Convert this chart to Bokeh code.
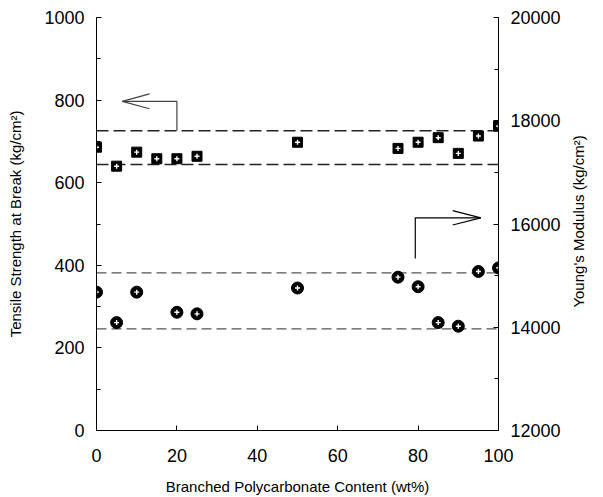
import math
from bokeh.plotting import figure
from bokeh.layouts import row
from bokeh.models import Range1d, LinearAxis, FixedTicker
from bokeh.core.properties import value
from bokeh.embed import file_html
from bokeh.resources import INLINE

# data
content = [0, 5, 10, 15, 20, 25, 50, 75, 80, 85, 90, 95, 100]
tensile = [686, 640, 674, 658, 658, 664, 698, 683, 698, 709, 671, 713, 737]
modulus_x = [0, 5, 10, 20, 25, 50, 75, 80, 85, 90, 95, 100]
modulus = [14680, 14090, 14680, 14290, 14260, 14760, 14970, 14785, 14090, 14020, 15080, 15150]
tensile_bounds = [726, 644]
modulus_bounds = [15055, 13970]
x_ticks = [0, 20, 40, 60, 80, 100]
left_ticks = [0, 200, 400, 600, 800, 1000]
right_ticks = [12000, 14000, 16000, 18000, 20000]
right_title_text = ["Young's Modulus (kg/cm²)"]
# annotation arrows
left_arrow_x = [20, 20, 6.4]
left_arrow_y = [726, 797, 797]
left_head_x = [13.2, 6.4, 13.2]
left_head_y = [815, 797, 779]
right_arrow_x = [79.3, 79.3, 95.6]
right_arrow_y = [15330, 16120, 16120]
right_head_x = [88.6, 95.6, 88.6]
right_head_y = [16260, 16120, 15980]

FONT = "Liberation Sans"

p = figure(output_backend="svg", toolbar_location=None,
           frame_width=402, frame_height=413,
           min_border_left=96, min_border_right=68, min_border_top=17, min_border_bottom=64,
           x_range=Range1d(0, 100), y_range=Range1d(0, 1000))
p.extra_y_ranges = {"mod": Range1d(12000, 20000)}
p.outline_line_color = None
p.grid.visible = False
p.background_fill_color = "white"
p.border_fill_color = "white"

def style(ax, minor=True):
    ax.axis_line_color = "black"
    ax.axis_line_width = 1
    ax.major_tick_in = 5
    ax.major_tick_out = 0
    ax.major_tick_line_color = "black"
    if minor:
        ax.minor_tick_in = 4
        ax.minor_tick_out = 0
        ax.minor_tick_line_color = "black"
    else:
        ax.minor_tick_line_color = None
    ax.major_label_text_font = FONT
    ax.major_label_text_font_size = "18px"
    ax.major_label_text_color = "black"
    ax.axis_label_text_font = FONT
    ax.axis_label_text_font_size = "15px"
    ax.axis_label_text_font_style = "normal"
    ax.axis_label_text_color = "black"

p.xaxis.ticker = FixedTicker(ticks=x_ticks)
p.xaxis.axis_label = "Branched Polycarbonate Content (wt%)"
p.xaxis.major_label_standoff = 18
p.xaxis.axis_label_standoff = 13
style(p.xaxis[0], minor=False)

p.yaxis.ticker = FixedTicker(ticks=left_ticks, minor_ticks=list(range(0, 1001, 100)))
p.yaxis.axis_label = "Tensile Strength at Break (kg/cm²)"
p.yaxis.major_label_standoff = 12
p.yaxis.axis_label_standoff = 17
style(p.yaxis[0])

ry = LinearAxis(y_range_name="mod",
                ticker=FixedTicker(ticks=right_ticks, minor_ticks=list(range(12000, 20001, 1000))))
ry.major_label_standoff = 12
style(ry)
p.add_layout(ry, "right")

# dashed bounds
for yv in tensile_bounds:
    p.line([0, 100], [yv, yv], line_color="#222222", line_width=1.5, line_dash="12 5")
for yv in modulus_bounds:
    p.line([0, 100], [yv, yv], y_range_name="mod", line_color="#555555", line_width=1.3, line_dash="10 5")

# arrows
p.line(left_arrow_x, left_arrow_y, line_color="#444444", line_width=1.2)
p.line(left_head_x, left_head_y, line_color="#444444", line_width=1.2)
p.line(right_arrow_x, right_arrow_y, y_range_name="mod", line_color="black", line_width=1.2)
p.line(right_head_x, right_head_y, y_range_name="mod", line_color="black", line_width=1.2)

# markers
p.scatter(content, tensile, marker="square", size=10, fill_color="black", line_color="black")
p.scatter(content, tensile, marker="cross", size=5, line_color="white", line_width=1.4)
p.scatter(modulus_x, modulus, y_range_name="mod", marker="circle", size=12,
          fill_color="black", line_color="black")
p.scatter(modulus_x, modulus, y_range_name="mod", marker="cross", size=5,
          line_color="white", line_width=1.4)

# narrow side figure holding the right-axis title (reads bottom to top)
p2 = figure(output_backend="svg", toolbar_location=None,
            frame_width=24, frame_height=413,
            min_border_left=0, min_border_right=0, min_border_top=17, min_border_bottom=64,
            x_range=Range1d(0, 1), y_range=Range1d(12000, 20000))
p2.axis.visible = False
p2.grid.visible = False
p2.outline_line_color = None
p2.background_fill_color = "white"
p2.border_fill_color = "white"
p2.text(x=[0.5], y=[16050], text=right_title_text, angle=math.pi / 2,
        text_align="center", text_baseline="middle",
        text_font=value(FONT), text_font_size="15px", text_color="black")

layout = row(p, p2, spacing=0)
open("out.html", "w").write(file_html(layout, INLINE))
